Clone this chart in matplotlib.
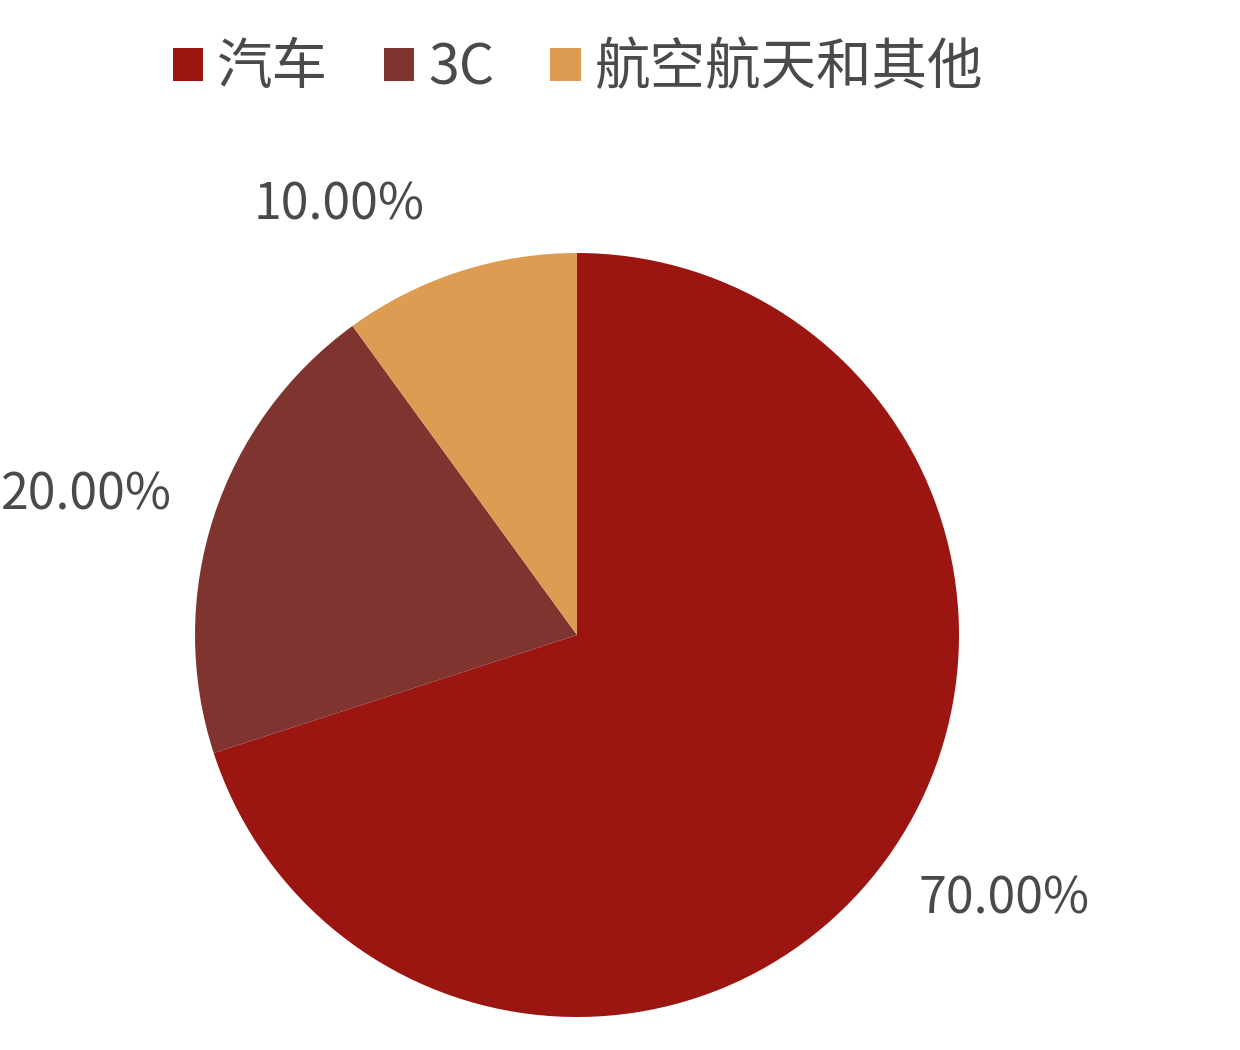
import numpy as np
import matplotlib.pyplot as plt

categories = ['汽车', '3C', '航空航天和其他']
shares = [70.0, 20.0, 10.0]
label_texts = ['70.00%', '20.00%', '10.00%']
colors = ['#9C1611', '#7F3430', '#DE9C52']

plt.rcParams['font.family'] = ['Noto Sans CJK SC', 'DejaVu Sans']

fig = plt.figure(figsize=(12.4, 10.5), dpi=100)
# square axes: centre (577, 635) px, radius 382 px
r_px = 382
ax = fig.add_axes([(577 - r_px) / 1240, (1050 - 635 - r_px) / 1050,
                   2 * r_px / 1240, 2 * r_px / 1050])

wedges, _ = ax.pie(shares, colors=colors, startangle=90, counterclock=False,
                   radius=1, wedgeprops=dict(linewidth=0))
ax.set_xlim(-1, 1)
ax.set_ylim(-1, 1)
ax.set_aspect('equal')
ax.axis('off')

# label placement: distance, angle shift from wedge middle, alignment
label_dist = [1.13, 1.122, 1.287]
label_shift = [-1.8, -1.0, 11.0]
label_ha = ['left', 'right', 'center']
for w, txt, d, s, ha in zip(wedges, label_texts, label_dist, label_shift, label_ha):
    ang = np.deg2rad((w.theta1 + w.theta2) / 2 + s)
    ax.text(d * np.cos(ang), d * np.sin(ang), txt, ha=ha, va='center',
            fontsize=36, color='#4a4a4a', fontweight='light', clip_on=False)

fig.legend(wedges, categories, loc='upper center', bbox_to_anchor=(0.466, 1.01),
           ncol=3, frameon=False, handlelength=0.55, handleheight=0.55,
           handletextpad=0.25, columnspacing=1.0, labelcolor='#4a4a4a',
           prop=dict(size=40, weight='light'))

fig.savefig('out.png', dpi=100, facecolor='white')
